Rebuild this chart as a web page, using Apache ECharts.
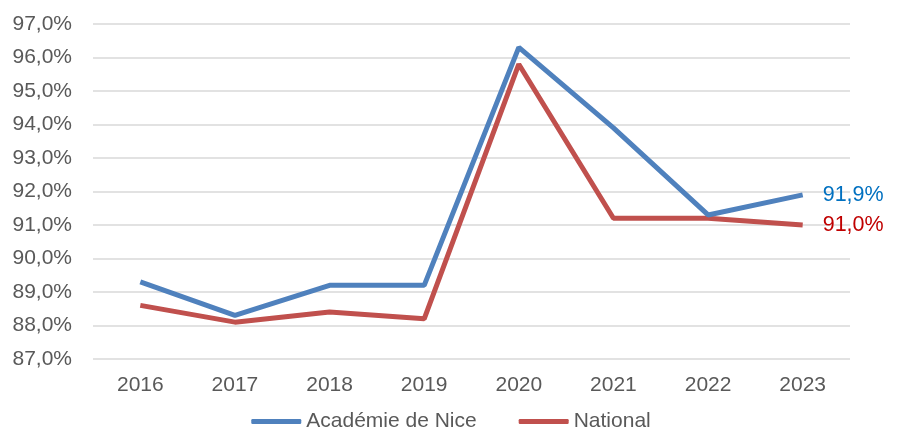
<!DOCTYPE html>
<html>
<head>
<meta charset="utf-8">
<script src="https://cdn.jsdelivr.net/npm/echarts@6/dist/echarts.min.js"></script>
<style>
  html, body { margin: 0; padding: 0; background: #fff; }
  #chart { width: 902px; height: 428px; }
</style>
</head>
<body>
<div id="chart"></div>
<script>
const years = ['2016', '2017', '2018', '2019', '2020', '2021', '2022', '2023']
const niceValues = [89.3, 88.3, 89.2, 89.2, 96.3, 93.9, 91.3, 91.9]
const nationalValues = [88.6, 88.1, 88.4, 88.2, 95.8, 91.2, 91.2, 91.0]

const fmt = v => v.toFixed(1).replace('.', ',') + '%'

// étiquette de fin de courbe
function endLabel(color) {
  return { show: true, distance: 20, color: color, fontSize: 21.5, formatter: p => fmt(p.value) }
}

const chart = echarts.init(document.getElementById('chart'))
chart.setOption({
  animation: false,
  textStyle: { fontFamily: 'Liberation Sans, Arial, sans-serif' },
  grid: { left: 93, right: 52, top: 24, bottom: 69, containLabel: false },
  legend: {
    top: 406,
    left: 'center',
    icon: 'roundRect',
    itemWidth: 50,
    itemHeight: 5,
    itemGap: 42,
    textStyle: { color: '#595959', fontSize: 21, padding: [0, 0, 0, 0] },
    data: ['Académie de Nice', 'National']
  },
  xAxis: {
    type: 'category',
    data: years,
    boundaryGap: true,
    axisLine: { show: false },
    axisTick: { show: false },
    axisLabel: { color: '#595959', fontSize: 21, margin: 16 }
  },
  yAxis: {
    type: 'value',
    min: 87,
    max: 97,
    interval: 1,
    axisLine: { show: false },
    axisTick: { show: false },
    axisLabel: { color: '#595959', fontSize: 21, margin: 21, formatter: v => fmt(v) },
    splitLine: { lineStyle: { color: '#d9d9d9', width: 1.5 } }
  },
  series: [
    {
      name: 'Académie de Nice',
      type: 'line',
      data: niceValues,
      symbol: 'none',
      color: '#4F81BD',
      lineStyle: { width: 5, color: '#4F81BD' },
      endLabel: endLabel('#0070C0'),
      z: 3
    },
    {
      name: 'National',
      type: 'line',
      data: nationalValues,
      symbol: 'none',
      color: '#C0504D',
      lineStyle: { width: 5, color: '#C0504D' },
      endLabel: endLabel('#C00000'),
      z: 2
    }
  ]
})
</script>
</body>
</html>
